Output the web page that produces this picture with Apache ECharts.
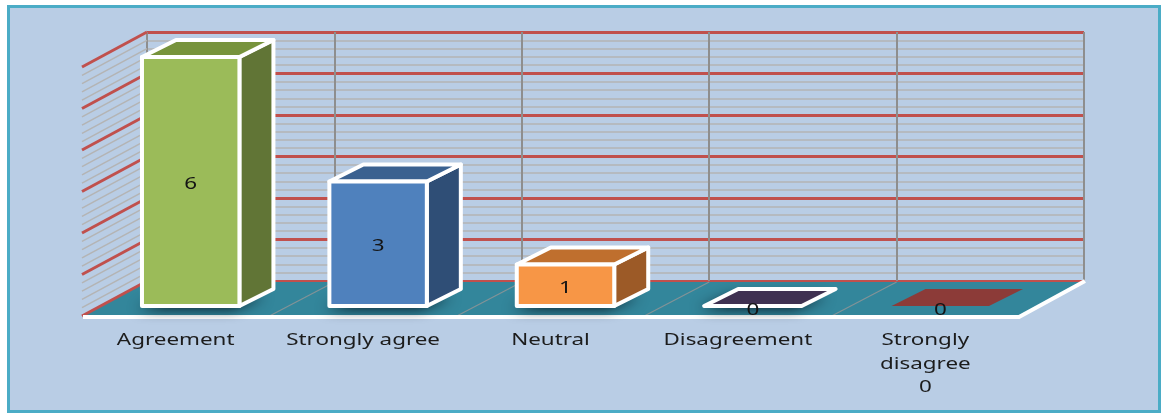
<!DOCTYPE html>
<html><head><meta charset="utf-8">
<script src="https://cdn.jsdelivr.net/npm/echarts@6/dist/echarts.min.js"></script>
<style>
html,body{margin:0;padding:0;background:#fff;width:1161px;height:413px;overflow:hidden;}
#frame{position:absolute;left:7px;top:5px;width:1154px;height:408px;box-sizing:border-box;border:3px solid #4BACC6;background:#B9CDE5;}
#chart{position:absolute;left:0;top:0;width:1161px;height:413px;}
</style></head><body>
<div id="frame"></div><div id="chart"></div>
<script>
// ---- data ----
const categories = ['Agreement', 'Strongly agree', 'Neutral', 'Disagreement', 'Strongly disagree'];
const axisLabelTexts = ['Agreement', 'Strongly agree', 'Neutral', 'Disagreement', 'Strongly\ndisagree\n0'];
const values = [6, 3, 1, 0, 0];
const yMin = 0, yMax = 6, yInterval = 1;

// ---- styles ----
const frontColors = ['#9BBB59', '#4F81BD', '#F79646', '#3F3151', '#8C3B38'];
const topColors   = ['#77933C', '#3A6190', '#BF6F2E', '#3F3151', '#8C3B38'];
const sideColors  = ['#617536', '#2F4E76', '#9C5A27', '#3F3151', '#8C3B38'];
const outlined    = [true, true, true, true, false];
const WALL_DX = -65, WALL_DY = 35;   // depth of floor / side wall
const BAR_DX = 34, BAR_DY = -17;     // depth of each 3D bar
const TEXT_SCALE = 1.4;
const FONT = 'Noto Sans';

const chart = echarts.init(document.getElementById('chart'), null, {renderer: 'canvas'});

function wallItem(params, api) {
  const bw = api.size([1, 0])[0];
  const n = categories.length;
  const c0 = api.coord([0, yMin]);
  const L = c0[0] - bw / 2, R = L + bw * n, y0 = c0[1];
  const children = [];
  children.push({type: 'polygon', shape: {points: [[L, y0 + 1], [R, y0 + 1], [R + WALL_DX, y0 + WALL_DY], [L + WALL_DX, y0 + WALL_DY]]},
    style: {fill: '#33869B'}});
  for (let k = 1; k < n; k++) {
    const x = L + k * bw;
    children.push({type: 'line', shape: {x1: x, y1: y0 + 1, x2: x + WALL_DX, y2: y0 + WALL_DY},
      style: {stroke: 'rgba(150,150,150,0.8)', lineWidth: 1.2}});
  }
  for (let v = yMin; v < yMax; v += yInterval) {
    for (let m = 1; m < 5; m++) {
      const y = api.coord([0, v + m * yInterval / 5])[1];
      children.push({type: 'line', shape: {x1: L, y1: y, x2: L + WALL_DX, y2: y + WALL_DY},
        style: {stroke: '#B4B4B4', lineWidth: 1.5}});
    }
  }
  for (let v = yMin; v <= yMax; v += yInterval) {
    const y = api.coord([0, v])[1];
    children.push({type: 'line', shape: {x1: L, y1: y, x2: L + WALL_DX, y2: y + WALL_DY},
      style: {stroke: '#C0504D', lineWidth: 3}});
  }
  children.push({type: 'polyline', shape: {points: [[L + WALL_DX + 1, y0 + WALL_DY + 1], [R + WALL_DX, y0 + WALL_DY + 1], [R + 1, y0]]},
    style: {stroke: '#FFFFFF', lineWidth: 4, fill: null, lineJoin: 'miter'}});
  return {type: 'group', children};
}

function barItem(params, api) {
  const i = api.value(0), v = api.value(1);
  const bw = api.size([1, 0])[0] * 0.52;
  const pb = api.coord([i, 0]);
  const pt = api.coord([i, v]);
  const xl = pb[0] - bw / 2, xr = pb[0] + bw / 2, yb = pb[1], yt = pt[1];
  const idx = params.dataIndex;
  const stroke = outlined[idx] ? '#FFFFFF' : null;
  const lw = outlined[idx] ? 4 : 0;
  const children = [];
  if (outlined[idx]) {
    children.push({type: 'polygon', shape: {points: [[xl + 2, yb - 2], [xr, yb - 2], [xr + BAR_DX - 2, yb + BAR_DY + 3], [xl + BAR_DX, yb + BAR_DY + 3]]},
      style: {fill: 'rgba(5,25,35,0.9)', shadowBlur: 13, shadowOffsetX: -7, shadowOffsetY: 5, shadowColor: 'rgba(0,10,20,1)'}});
  }
  const topPts = [[xl, yt], [xr, yt], [xr + BAR_DX, yt + BAR_DY], [xl + BAR_DX, yt + BAR_DY]];
  const txtStyle = {text: String(values[idx]), fill: '#141414', fontSize: 16, fontFamily: FONT, align: 'center', verticalAlign: 'middle'};
  if (v > 0) {
    children.push({type: 'polygon', shape: {points: [[xr, yt], [xr + BAR_DX, yt + BAR_DY], [xr + BAR_DX, yb + BAR_DY], [xr, yb]]},
      style: {fill: sideColors[idx], stroke, lineWidth: lw, lineJoin: 'round'}});
    children.push({type: 'polygon', shape: {points: topPts},
      style: {fill: topColors[idx], stroke, lineWidth: lw, lineJoin: 'round'}});
    children.push({type: 'rect', shape: {x: xl, y: yt, width: bw, height: yb - yt},
      style: {fill: frontColors[idx], stroke, lineWidth: lw, lineJoin: 'round'}});
    children.push({type: 'text', x: pb[0], y: (yt + yb) / 2 + 3, scaleX: TEXT_SCALE, style: txtStyle});
  } else {
    children.push({type: 'polygon', shape: {points: topPts},
      style: {fill: topColors[idx], stroke, lineWidth: lw, lineJoin: 'round'}});
    children.push({type: 'text', x: pb[0], y: yb + 4, scaleX: TEXT_SCALE, style: txtStyle});
  }
  return {type: 'group', children};
}

function labelItem(params, api) {
  const p = api.coord([api.value(0), yMin]);
  return {type: 'text', x: p[0] + WALL_DX, y: p[1] + WALL_DY + 13, scaleX: TEXT_SCALE,
    style: {text: axisLabelTexts[params.dataIndex], fill: '#1C1C1C', fontSize: 16, fontFamily: FONT,
      align: 'center', verticalAlign: 'top', lineHeight: 23.5}};
}

chart.setOption({
  animation: false,
  backgroundColor: 'transparent',
  grid: [
    {left: 147, top: 32, width: 937, height: 249},
    {left: 97, top: 57, width: 937, height: 249}
  ],
  xAxis: [
    {gridIndex: 0, type: 'category', data: categories, boundaryGap: true,
      axisLine: {show: false}, axisTick: {show: false}, axisLabel: {show: false},
      splitLine: {show: true, interval: 0, lineStyle: {color: '#8E8E8E', width: 2}}},
    {gridIndex: 1, type: 'category', data: categories, boundaryGap: true, show: false}
  ],
  yAxis: [
    {gridIndex: 0, type: 'value', min: yMin, max: yMax, interval: yInterval,
      axisLine: {show: false}, axisTick: {show: false}, axisLabel: {show: false},
      minorTick: {show: false, splitNumber: 5},
      minorSplitLine: {show: true, lineStyle: {color: '#B4B4B4', width: 1.5}},
      splitLine: {show: true, lineStyle: {color: '#C0504D', width: 3}}},
    {gridIndex: 1, type: 'value', min: yMin, max: yMax, interval: yInterval, show: false}
  ],
  series: [
    {type: 'custom', name: 'walls', xAxisIndex: 0, yAxisIndex: 0, z: 1, silent: true,
      data: [[0, 0]], renderItem: wallItem},
    {type: 'custom', name: 'bars', xAxisIndex: 1, yAxisIndex: 1, z: 3,
      data: values.map((v, i) => [i, v]), renderItem: barItem},
    {type: 'custom', name: 'labels', xAxisIndex: 0, yAxisIndex: 0, z: 4, silent: true,
      data: categories.map((c, i) => [i, 0]), renderItem: labelItem}
  ]
});
</script>
</body></html>
